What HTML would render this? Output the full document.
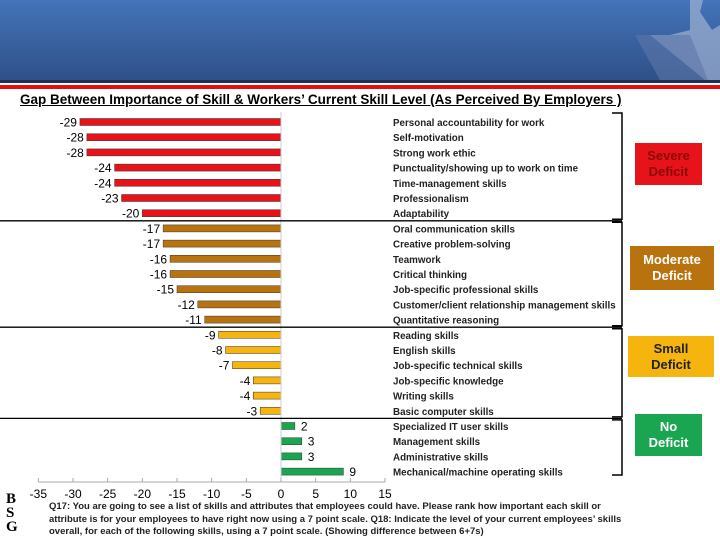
<!DOCTYPE html>
<html><head><meta charset="utf-8"><style>
body{margin:0;width:720px;height:540px;overflow:hidden;background:#fff;font-family:"Liberation Sans",sans-serif;position:relative}
.hdr{position:absolute;left:0;top:0;width:720px;height:80px;background:linear-gradient(#4474ba,#2f5088)}
.box{position:absolute;text-align:center;font-weight:bold;font-size:13px;line-height:16px;display:flex;align-items:center;justify-content:center}
</style></head><body>
<div class="hdr"></div>
<svg style="position:absolute;left:0;top:0" width="720" height="90">
<polygon points="690,0 703,0 700,12 712,30 720,25 720,80 705,80 650,35 670,35 690,30" fill="#9aaed0" opacity="0.75"/>
<polygon points="635,35 690,35 708,80 660,80" fill="#5e77a8" opacity="0.6"/>
<rect x="0" y="80" width="720" height="3" fill="#1e2f55"/>
<rect x="0" y="85" width="720" height="4" fill="#e01010"/>
</svg>
<div style="position:absolute;left:20px;top:92px;font-size:13.5px;font-weight:bold;text-decoration:underline;white-space:nowrap">Gap Between Importance of Skill &amp; Workers’ Current Skill Level (As Perceived By Employers )</div>
<svg id="chart" style="position:absolute;left:0;top:0" width="720" height="540"></svg>
<div class="box" style="left:635px;top:143px;width:67px;height:42px;background:#e8121a;color:#8a0a0a">Severe<br>Deficit</div>
<div class="box" style="left:630px;top:246px;width:84px;height:44px;background:#b8730f;color:#fff">Moderate<br>Deficit</div>
<div class="box" style="left:628px;top:336px;width:86px;height:41px;background:#f5b50e;color:#222">Small<br>Deficit</div>
<div class="box" style="left:635px;top:414px;width:67px;height:42px;background:#1aa550;color:#fff">No<br>Deficit</div>
<div style="position:absolute;left:6px;top:492px;width:20px;height:44px;font-weight:bold;font-size:15px;line-height:14px;font-family:'Liberation Serif',serif">B<br>S<br>G</div>
<div style="position:absolute;left:49px;top:501px;font-size:9.5px;line-height:12.5px;font-weight:bold;color:#222;white-space:nowrap">Q17: You are going to see a list of skills and attributes that employees could have. Please rank how important each skill or<br>attribute is for your employees to have right now using a 7 point scale. Q18: Indicate the level of your current employees’ skills<br>overall, for each of the following skills, using a 7 point scale. (Showing difference between 6+7s)</div>
<script>
const categories=["Personal accountability for work","Self-motivation","Strong work ethic","Punctuality/showing up to work on time","Time-management skills","Professionalism","Adaptability","Oral communication skills","Creative problem-solving","Teamwork","Critical thinking","Job-specific professional skills","Customer/client relationship management skills","Quantitative reasoning","Reading skills","English skills","Job-specific technical skills","Job-specific knowledge","Writing skills","Basic computer skills","Specialized IT user skills","Management skills","Administrative skills","Mechanical/machine operating skills"];
const values=[-29,-28,-28,-24,-24,-23,-20,-17,-17,-16,-16,-15,-12,-11,-9,-8,-7,-4,-4,-3,2,3,3,9];
const groups=[0,0,0,0,0,0,0,1,1,1,1,1,1,1,2,2,2,2,2,2,3,3,3,3];
const groupColors=["#e8121a","#b8730f","#f5b50e","#1aa550"];
const ticks=[-35,-30,-25,-20,-15,-10,-5,0,5,10,15];
const svg=document.getElementById('chart');
const NS='http://www.w3.org/2000/svg';
const x=v=>281+v*(104/15);
const y=i=>122+i*15.2;
function mk(t,a){const e=document.createElementNS(NS,t);for(const k in a)e.setAttribute(k,a[k]);svg.appendChild(e);return e;}
values.forEach((v,i)=>{
 const r=mk('rect',{x:Math.min(x(v),x(0)),y:y(i)-3.5,width:Math.abs(x(v)-x(0)),height:7,fill:groupColors[groups[i]],stroke:'#333','stroke-width':0.5});
 
 
 const t=mk('text',{x:v<0?x(v)-3:x(v)+6,y:y(i)+4.5,'font-size':12,'text-anchor':v<0?'end':'start'});
 t.textContent=v;
 
 
 const c=mk('text',{x:393,y:y(i)+4,'font-size':9.8,'font-weight':'bold',fill:'#222'});
 c.textContent=categories[i];
 
 
});
mk('line',{x1:x(0),y1:112,x2:x(0),y2:482,stroke:'#ccc','stroke-width':1});
mk('line',{x1:x(-35),y1:482,x2:x(15),y2:482,stroke:'#aaa','stroke-width':1});
ticks.forEach(t=>{
 mk('line',{x1:x(t),y1:478,x2:x(t),y2:482,stroke:'#aaa'});
 const e=mk('text',{x:x(t),y:498,'font-size':12,'text-anchor':'middle'});
 e.textContent=t;
 
 
});
const bounds=[0,7,14,20,24];
for(let g=1;g<4;g++){const yy=(y(bounds[g]-1)+y(bounds[g]))/2;mk('line',{x1:0,y1:yy,x2:622,y2:yy,stroke:'#000','stroke-width':1.3});}
for(let g=0;g<4;g++){
 const y1=g==0?113:(y(bounds[g]-1)+y(bounds[g]))/2+1.5, y2=g==3?475:(y(bounds[g+1]-1)+y(bounds[g+1]))/2-1.5;
 mk('path',{d:`M612 ${y1} L622 ${y1} L622 ${y2} L612 ${y2}`,fill:'none',stroke:'#000','stroke-width':1.5});
}
</script>
</body></html>
